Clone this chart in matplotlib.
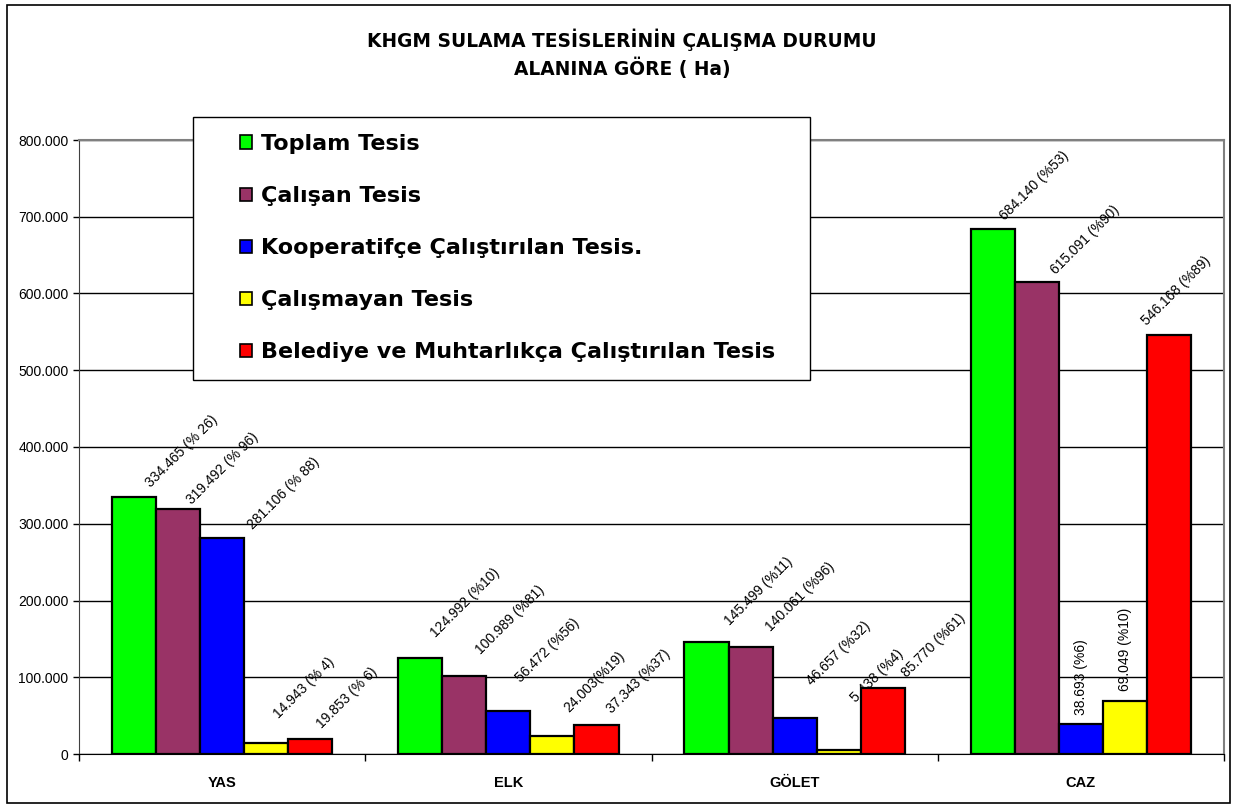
import numpy as np
import matplotlib
matplotlib.use("Agg")
import matplotlib.pyplot as plt
from matplotlib.patches import Rectangle
from matplotlib.ticker import FuncFormatter

plt.rcParams['font.family'] = ['Liberation Sans', 'DejaVu Sans']

# data
categories = ["YAS", "ELK", "GÖLET", "CAZ"]
series_names = ["Toplam Tesis", "Çalışan Tesis", "Kooperatifçe Çalıştırılan Tesis.",
                "Çalışmayan Tesis", "Belediye ve Muhtarlıkça Çalıştırılan Tesis"]
toplam = [334465, 124992, 145499, 684140]
calisan = [319492, 100989, 140061, 615091]
kooperatif = [281106, 56472, 46657, 38693]
calismayan = [14943, 24003, 5438, 69049]
belediye = [19853, 37343, 85770, 546168]
lbl_toplam = ["334.465 (% 26)", "124.992 (%10)", "145.499 (%11)", "684.140 (%53)"]
lbl_calisan = ["319.492 (% 96)", "100.989 (%81)", "140.061 (%96)", "615.091 (%90)"]
lbl_kooperatif = ["281.106 (% 88)", "56.472 (%56)", "46.657 (%32)", "38.693 (%6)"]
lbl_calismayan = ["14.943 (% 4)", "24.003(%19)", "5.438 (%4)", "69.049 (%10)"]
lbl_belediye = ["19.853 (% 6)", "37.343 (%37)", "85.770 (%61)", "546.168 (%89)"]

series = [toplam, calisan, kooperatif, calismayan, belediye]
labels = [lbl_toplam, lbl_calisan, lbl_kooperatif, lbl_calismayan, lbl_belediye]
colors = ["#00FF00", "#993366", "#0000FF", "#FFFF00", "#FF0000"]

# label placement (pixels from bar top centre), rotation
offs = [[(9, 7), (8, 18), (16, 14), (4, 6)],
        [(6, 2), (9, 19), (13, 13), (11, 5)],
        [(23, 6), (5, 26), (9, 30), (0, 9)],
        [(5, 22), (9, 21), (9, 45), (0, 10)],
        [(4, 8), (8, 9), (16, 8), (-30, 7)]]
rot = [[45, 45, 45, 45], [45, 45, 45, 45], [45, 45, 45, 90],
       [45, 45, 45, 90], [45, 45, 45, 45]]


def tr(v):
    return f"{v:,.0f}".replace(",", ".")


fig = plt.figure(figsize=(12.36, 8.09), dpi=100)
ax = fig.add_axes([79/1236, 1-754/809, (1224-79)/1236, (754-140)/809])

x = np.arange(len(categories))
w = 0.154
for i, (vals, c) in enumerate(zip(series, colors)):
    xs = x + (i - 2) * w
    ax.bar(xs, vals, width=w, color=c, edgecolor="black", linewidth=1.6, zorder=3)
    for j, (xx, v) in enumerate(zip(xs, vals)):
        if rot[i][j] == 45:
            ax.annotate(labels[i][j], (xx, v), xytext=offs[i][j], textcoords="offset pixels",
                        rotation=45, ha="left", va="bottom", fontsize=10, zorder=2.5)
        else:
            ax.annotate(labels[i][j], (xx, v), xytext=offs[i][j], textcoords="offset pixels",
                        rotation=90, ha="center", va="bottom", fontsize=10, zorder=2.5)

ax.set_xlim(-0.5, 3.5)
ax.set_ylim(0, 800000)
ax.set_yticks(np.arange(0, 800001, 100000))
ax.yaxis.set_major_formatter(FuncFormatter(lambda v, p: tr(v)))
ax.tick_params(axis="y", labelsize=10, length=4, width=1, direction="out")
ax.yaxis.grid(True, color="black", linewidth=1, zorder=0.5)
ax.set_axisbelow(True)

ax.set_xticks(np.arange(-0.5, 4, 1))
ax.set_xticklabels([])
ax.tick_params(axis="x", which="major", length=5, width=1, direction="out")
ax.set_xticks(x, minor=True)
ax.set_xticklabels(categories, minor=True, fontweight="bold", fontsize=10.5)
ax.tick_params(axis="x", which="minor", length=0, pad=16)

for s in ["top", "right"]:
    ax.spines[s].set_color("#808080")
    ax.spines[s].set_linewidth(1.5)
ax.spines["left"].set_color("#404040")
ax.spines["bottom"].set_color("black")

# title
fig.text(622/1236, 1-40/809, "KHGM SULAMA TESİSLERİNİN ÇALIŞMA DURUMU", ha="center", va="center",
         fontsize=13.4, fontweight="bold", family="DejaVu Sans")
fig.text(622/1236, 1-68/809, "ALANINA GÖRE ( Ha)", ha="center", va="center",
         fontsize=13.4, fontweight="bold", family="DejaVu Sans")

# legend box
fig.patches.append(Rectangle((193/1236, 1-380/809), (810-193)/1236, (380-117)/809,
                             transform=fig.transFigure, facecolor="white", edgecolor="black",
                             linewidth=1, zorder=5))
handles = [Rectangle((0, 0), 1, 1, facecolor=c, edgecolor="black", linewidth=1.2) for c in colors]
leg = fig.legend(handles, series_names, loc="upper left", bbox_to_anchor=(240/1236, 1-134/809),
                 frameon=False, borderpad=0, borderaxespad=0, handlelength=0.55, handleheight=0.55,
                 handletextpad=0.4, labelspacing=1.445,
                 prop={"size": 16, "weight": "bold", "family": "DejaVu Sans"})
leg.set_zorder(6)

# outer border
fig.patches.append(Rectangle((7/1236, 6/809), (1230-7)/1236, (804-6)/809,
                             transform=fig.transFigure, facecolor="none", edgecolor="black",
                             linewidth=1.2, zorder=0))

fig.savefig("out.png", dpi=100)
